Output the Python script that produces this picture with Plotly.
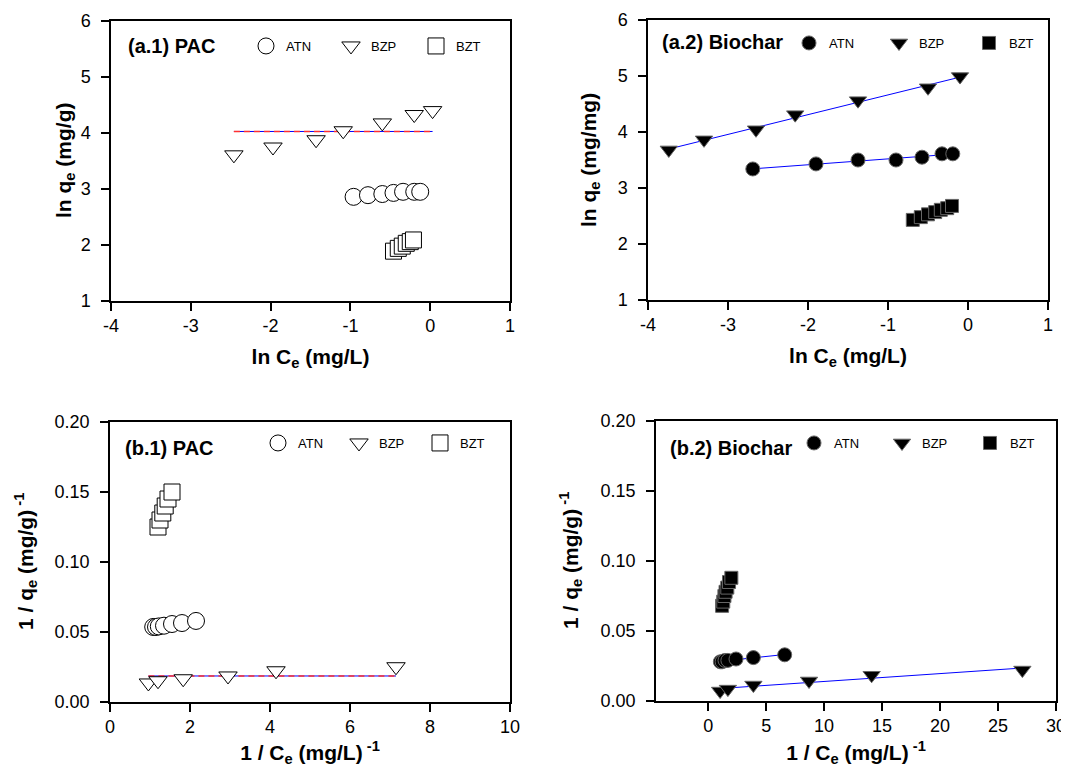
import numpy as np
import plotly.graph_objects as go

# ---------------- data ----------------
# (a.1) PAC : ln qe vs ln Ce
a1_atn_x = [-0.96, -0.78, -0.60, -0.46, -0.34, -0.20, -0.125]
a1_atn_y = [2.86, 2.89, 2.91, 2.93, 2.95, 2.95, 2.95]
a1_bzp_x = [-2.46, -1.97, -1.43, -1.09, -0.60, -0.20, 0.03]
a1_bzp_y = [3.61, 3.75, 3.88, 4.04, 4.18, 4.33, 4.40]
a1_bzt_x = [-0.46, -0.40, -0.35, -0.30, -0.25, -0.21]
a1_bzt_y = [1.89, 1.94, 1.98, 2.03, 2.06, 2.09]

# (a.2) Biochar : ln qe vs ln Ce
a2_atn_x = [-2.69, -1.90, -1.375, -0.90, -0.575, -0.325, -0.19]
a2_atn_y = [3.34, 3.43, 3.50, 3.50, 3.55, 3.61, 3.61]
a2_bzp_x = [-3.74, -3.30, -2.65, -2.16, -1.375, -0.50, -0.10]
a2_bzp_y = [3.68, 3.86, 4.04, 4.31, 4.56, 4.79, 4.99]
a2_bzt_x = [-0.69, -0.59, -0.50, -0.41, -0.34, -0.26, -0.20]
a2_bzt_y = [2.43, 2.48, 2.53, 2.57, 2.61, 2.64, 2.68]

# (b.1) PAC : 1/qe vs 1/Ce
b1_atn_x = [1.08, 1.15, 1.22, 1.35, 1.55, 1.80, 2.15]
b1_atn_y = [0.0536, 0.0536, 0.0540, 0.0545, 0.0557, 0.0564, 0.0579]
b1_bzp_x = [0.96, 1.20, 1.83, 2.95, 4.15, 7.15]
b1_bzp_y = [0.0136, 0.0152, 0.0166, 0.0186, 0.0223, 0.0252]
b1_bzt_x = [1.20, 1.25, 1.32, 1.38, 1.45, 1.55]
b1_bzt_y = [0.125, 0.130, 0.135, 0.140, 0.145, 0.150]

# (b.2) Biochar : 1/qe vs 1/Ce
b2_atn_x = [1.05, 1.20, 1.45, 1.70, 2.40, 3.90, 6.60]
b2_atn_y = [0.028, 0.028, 0.029, 0.029, 0.030, 0.031, 0.033]
b2_bzp_x = [1.03, 1.70, 3.90, 8.70, 14.1, 27.1]
b2_bzp_y = [0.0071, 0.0085, 0.0114, 0.0143, 0.0184, 0.0221]
b2_bzt_x = [1.20, 1.30, 1.40, 1.50, 1.65, 1.80, 2.00]
b2_bzt_y = [0.068, 0.071, 0.075, 0.078, 0.081, 0.085, 0.088]

series_names = ["ATN", "BZP", "BZT"]
panel_labels = ["(a.1) PAC", "(a.2) Biochar", "(b.1) PAC", "(b.2) Biochar"]
y_titles = ["<b>ln q<sub>e</sub> (mg/g)</b>", "<b>ln q<sub>e</sub> (mg/mg)</b>",
            "<b>1 / q<sub>e</sub> (mg/g)<sup> -1</sup></b>",
            "<b>1 / q<sub>e</sub> (mg/g)<sup> -1</sup></b>"]

# tick labels
ln_tickvals = [-4, -3, -2, -1, 0, 1]
ln_ticktext = ["-4", "-3", "-2", "-1", "0", "1"]
lnq_tickvals = [1, 2, 3, 4, 5, 6]
inv_q_tickvals = [0.0, 0.05, 0.10, 0.15, 0.20]
inv_q_ticktext = ["0.00", "0.05", "0.10", "0.15", "0.20"]
b1_x_tickvals = [0, 2, 4, 6, 8, 10]
b2_x_tickvals = [0, 5, 10, 15, 20, 25, 30]

# ---------------- figure ----------------
# the page body has an 8px margin, so the figure is sized to fit inside the window
OFF = 8
WIN_W, WIN_H = 1069, 775
W, H = WIN_W - OFF, WIN_H - 2 * OFF
FONT = "Arial, 'Liberation Sans', Helvetica, sans-serif"
fig = go.Figure()

def px_x(p):  # window pixel -> paper fraction
    return (p - OFF) / W

def px_y(p):
    return 1 - (p - OFF) / H

panels = [
    dict(xa="x", ya="y", leg="legend", filled=False,
         data=[(a1_atn_x, a1_atn_y), (a1_bzp_x, a1_bzp_y), (a1_bzt_x, a1_bzt_y)],
         fit="mean", sizes=(17, 16, 16)),
    dict(xa="x2", ya="y2", leg="legend2", filled=True,
         data=[(a2_atn_x, a2_atn_y), (a2_bzp_x, a2_bzp_y), (a2_bzt_x, a2_bzt_y)],
         fit="linear", sizes=(14, 15, 13)),
    dict(xa="x3", ya="y3", leg="legend3", filled=False,
         data=[(b1_atn_x, b1_atn_y), (b1_bzp_x, b1_bzp_y), (b1_bzt_x, b1_bzt_y)],
         fit="mean", sizes=(17, 16, 16)),
    dict(xa="x4", ya="y4", leg="legend4", filled=True,
         data=[(b2_atn_x, b2_atn_y), (b2_bzp_x, b2_bzp_y), (b2_bzt_x, b2_bzt_y)],
         fit="linear", sizes=(14, 15, 13)),
]
symbols = ["circle", "triangle-down", "square"]

for p in panels:
    (atn_x, atn_y), (bzp_x, bzp_y), _ = p["data"]
    # fitted lines
    if p["fit"] == "mean":
        xs = [min(bzp_x), max(bzp_x)]
        m = float(np.mean(bzp_y))
        fig.add_trace(go.Scatter(x=xs, y=[m, m], mode="lines", xaxis=p["xa"], yaxis=p["ya"],
                                 line=dict(color="blue", width=1), showlegend=False, hoverinfo="skip"))
        fig.add_trace(go.Scatter(x=xs, y=[m, m], mode="lines", xaxis=p["xa"], yaxis=p["ya"],
                                 line=dict(color="#ff3030", width=1.5, dash="6px,4px"),
                                 showlegend=False, hoverinfo="skip"))
    else:
        for sx, sy in [(atn_x, atn_y), (bzp_x, bzp_y)]:
            k, b = np.polyfit(sx, sy, 1)
            xs = np.array([min(sx), max(sx)])
            fig.add_trace(go.Scatter(x=xs, y=k * xs + b, mode="lines", xaxis=p["xa"], yaxis=p["ya"],
                                     line=dict(color="blue", width=1), showlegend=False,
                                     hoverinfo="skip"))
    # markers
    for (sx, sy), name, sym, sz in zip(p["data"], series_names, symbols, p["sizes"]):
        fig.add_trace(go.Scatter(
            x=sx, y=sy, mode="markers", name=name, xaxis=p["xa"], yaxis=p["ya"],
            legend=p["leg"],
            marker=dict(symbol=sym, size=sz,
                        color="black" if p["filled"] else "white",
                        line=dict(color="black" if not p["filled"] else "#666666", width=1)),
        ))

axis_common = dict(showline=True, linecolor="black", linewidth=1.5, mirror=True,
                   ticks="outside", ticklen=8, tickwidth=1.5, tickcolor="black",
                   showgrid=False, zeroline=False, automargin=False,
                   tickfont=dict(family=FONT, size=18, color="black"))
x_common = dict(ticklabelstandoff=0, **axis_common)
y_common = dict(ticklabelstandoff=7, **axis_common)
title_font = dict(family=FONT, size=21, color="black")

xt_ln = "<b>ln C<sub>e</sub> (mg/L)</b>"
xt_inv = "<b>1 / C<sub>e</sub> (mg/L)<sup> -1</sup></b>"

dom = {
    "a1": ([111, 510], [301, 21]),
    "a2": ([648, 1048], [300, 20]),
    "b1": ([110, 510], [702, 422]),
    "b2": ([656, 1056], [701, 421]),
}

fig.update_layout(
    width=W, height=H, margin=dict(l=0, r=0, t=0, b=0, autoexpand=False),
    paper_bgcolor="white", plot_bgcolor="white",
    font=dict(family=FONT, color="black"),
    xaxis=dict(domain=[px_x(111), px_x(510)], range=[-4, 1], tickvals=ln_tickvals,
               ticktext=ln_ticktext, anchor="y",
               title=dict(text=xt_ln, font=title_font, standoff=14), **x_common),
    yaxis=dict(domain=[px_y(301), px_y(21)], range=[1, 6], tickvals=lnq_tickvals, anchor="x",
               **y_common),
    xaxis2=dict(domain=[px_x(648), px_x(1048)], range=[-4, 1], tickvals=ln_tickvals,
                ticktext=ln_ticktext, anchor="y2",
                title=dict(text=xt_ln, font=title_font, standoff=14), **x_common),
    yaxis2=dict(domain=[px_y(300), px_y(20)], range=[1, 6], tickvals=lnq_tickvals, anchor="x2",
                **y_common),
    xaxis3=dict(domain=[px_x(110), px_x(510)], range=[0, 10], tickvals=b1_x_tickvals, anchor="y3",
                title=dict(text=xt_inv, font=title_font, standoff=14), **x_common),
    yaxis3=dict(domain=[px_y(702), px_y(422)], range=[0, 0.2], tickvals=inv_q_tickvals,
                ticktext=inv_q_ticktext, anchor="x3", **y_common),
    xaxis4=dict(domain=[px_x(656), px_x(1056)], range=[-4.5, 30], tickvals=b2_x_tickvals,
                anchor="y4",
                title=dict(text=xt_inv, font=title_font, standoff=14), **x_common),
    yaxis4=dict(domain=[px_y(701), px_y(421)], range=[0, 0.2], tickvals=inv_q_tickvals,
                ticktext=inv_q_ticktext, anchor="x4", **y_common),
)

# y-axis titles (rotated text placed beside each axis)
ytitle_x = [65, 590, 25, 570]
ytitle_y = [161, 160, 562, 561]
for txt, tx, ty in zip(y_titles, ytitle_x, ytitle_y):
    fig.add_annotation(text=txt, xref="paper", yref="paper", x=px_x(tx), y=px_y(ty),
                       xanchor="center", yanchor="middle", textangle=-90, showarrow=False,
                       font=title_font)

leg_common = dict(orientation="h", bgcolor="rgba(0,0,0,0)", borderwidth=0,
                  font=dict(family=FONT, size=13, color="black"),
                  xanchor="left", yanchor="middle", entrywidthmode="pixels", itemclick=False,
                  itemdoubleclick=False)
fig.update_layout(
    legend=dict(x=px_x(246), y=px_y(46), entrywidth=40, **leg_common),
    legend2=dict(x=px_x(789), y=px_y(43), entrywidth=45, **leg_common),
    legend3=dict(x=px_x(258), y=px_y(443), entrywidth=36, **leg_common),
    legend4=dict(x=px_x(794), y=px_y(443), entrywidth=43, **leg_common),
)

label_pos = [(126, 46), (660, 42), (123, 448), (668, 448)]
for txt, (lx, ly) in zip(panel_labels, label_pos):
    fig.add_annotation(text=f"<b>{txt}</b>", xref="paper", yref="paper", x=px_x(lx), y=px_y(ly),
                       xanchor="left", yanchor="middle", showarrow=False,
                       font=dict(family=FONT, size=20, color="black"))

fig.write_html("out.html")
